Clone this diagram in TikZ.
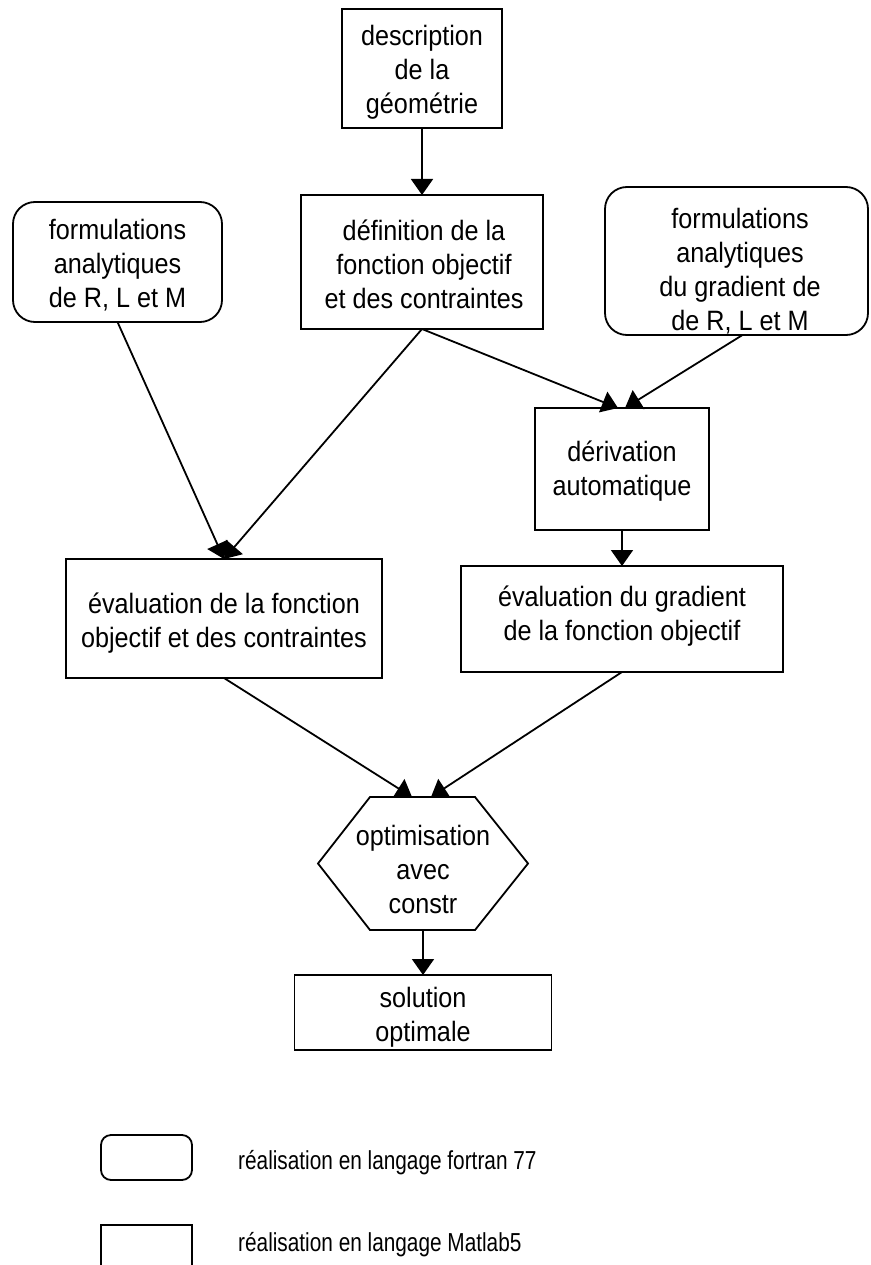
\documentclass[tikz,border=0pt]{standalone}
\usepackage{fontspec}
\setmainfont{Liberation Sans}[FakeStretch=0.9]
\newfontfamily\legendfont{Liberation Sans}[FakeStretch=0.8]
\usetikzlibrary{arrows.meta}

\begin{document}
\begin{tikzpicture}[x=1pt,y=-1pt,
  outline/.style={draw, line width=1.8pt},
  sqbox/.style={outline, inner sep=0pt, outer sep=0pt},
  rndbox/.style={sqbox, rounded corners=22pt},
  txt/.style={align=center, inner sep=0pt, outer sep=0pt, font=\fontsize{28}{34}\selectfont},
  legtxt/.style={anchor=west, inner sep=0pt, font=\legendfont\fontsize{26}{30}\selectfont},
  conn/.style={line width=1.8pt, -{Triangle[length=16pt,width=22pt]}}]

\useasboundingbox (0,0) rectangle (870,1265);

% --- boxes ---
\node[sqbox, minimum width=160pt, minimum height=119pt] (desc) at (422,68.5) {};
\node[txt] (descT) at (422,72) {description\\de la\\géométrie};

\node[sqbox, minimum width=242pt, minimum height=134pt] (def) at (422,262) {};
\node[txt] (defT) at (424,264) {définition de la\\fonction objectif\\et des contraintes};

\node[rndbox, minimum width=209pt, minimum height=120pt] (fL) at (117.5,262) {};
\node[txt] (fLT) at (117.5,265) {formulations\\analytiques\\de R, L et M};

\node[rndbox, minimum width=263pt, minimum height=148pt] (fR) at (736.5,261) {};
\node[txt] (fRT) at (740,271) {formulations\\analytiques\\du gradient de\\de R, L et M};

\node[sqbox, minimum width=174pt, minimum height=122pt] (der) at (622,469) {};
\node[txt] (derT) at (622,471) {dérivation\\automatique};

\node[sqbox, minimum width=316pt, minimum height=119pt] (evL) at (224,618.5) {};
\node[txt] (evLT) at (224,623) {évaluation de la fonction\\objectif et des contraintes};

\node[sqbox, minimum width=322pt, minimum height=106pt] (evR) at (622,619) {};
\node[txt] (evRT) at (622,616) {évaluation du gradient\\de la fonction objectif};

% hexagon: an invisible frame gives the anchors, the outline is drawn on it
\node[minimum width=210pt, minimum height=133pt, inner sep=0pt, outer sep=0pt] (hex) at (423,863.5) {};
\draw[outline] (hex.west) -- ([xshift=52pt]hex.north west) -- ([xshift=-53pt]hex.north east)
  -- (hex.east) -- ([xshift=-53pt]hex.south east) -- ([xshift=52pt]hex.south west) -- cycle;
\node[txt] (hexT) at (423,869) {optimisation\\avec\\constr};

\node[sqbox, minimum width=257pt, minimum height=75pt] (sol) at (423,1012.5) {};
\node[txt] (solT) at (423,1017) {solution\\optimale};

% --- connectors ---
\draw[conn] (desc.south) -- (def.north);
\draw[conn] (fL.south) -- (evL.north);
\draw[conn] (def.south) -- (evL.north);
\draw[conn] (def.south) -- ([xshift=-4pt]der.north);
\draw[conn] ([xshift=6pt]fR.south) -- ([xshift=3pt]der.north);
\draw[conn] (der.south) -- (evR.north);
\draw[conn] (evL.south) -- ([xshift=-11pt]hex.north);
\draw[conn] (evR.south) -- ([xshift=8pt]hex.north);
\draw[conn] (hex.south) -- (sol.north);

% --- legend ---
\node[rndbox, rounded corners=10pt, minimum width=91pt, minimum height=45pt] (legF) at (146.5,1157.5) {};
\node[legtxt] (legFT) at (238,1163) {réalisation en langage fortran 77};
\node[sqbox, minimum width=91pt, minimum height=80pt] (legM) at (146.5,1265) {};
\node[legtxt] (legMT) at (238,1245) {réalisation en langage Matlab5};
\end{tikzpicture}
\end{document}
